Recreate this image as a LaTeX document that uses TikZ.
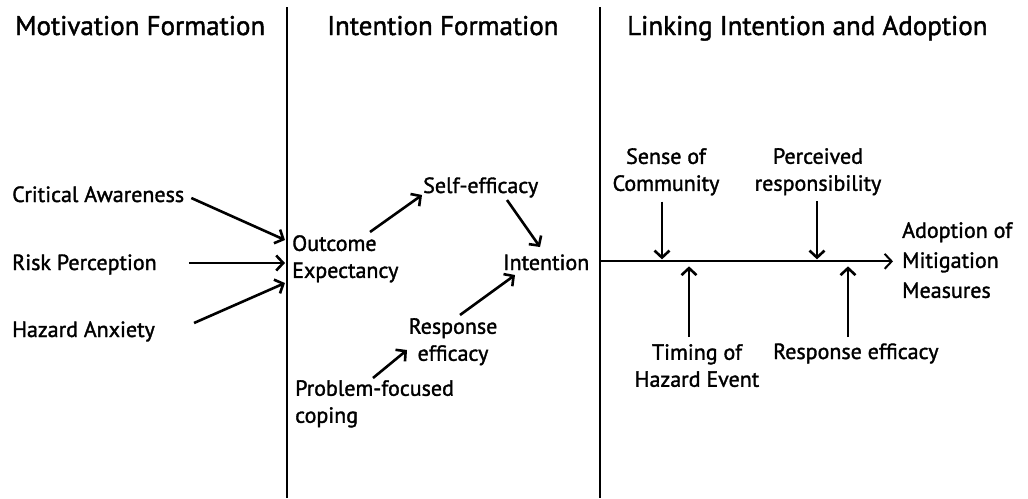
\documentclass[tikz,border=0pt]{standalone}
\usepackage{fontspec}
\setmainfont{PT Sans}[BoldFont=PT Sans, BoldFeatures={FakeBold=1.5}]
\usetikzlibrary{arrows.meta,calc}

\begin{document}
\begin{tikzpicture}[x=1pt,y=-1pt,
  lbl/.style={inner sep=0pt, font=\fontsize{22}{27}\selectfont\bfseries},
  head/.style={inner sep=0pt, anchor=base west, font=\fontsize{27}{33}\selectfont\bfseries},
  divider/.style={line width=2pt},
  link/.style={line width=2.6pt, -{Straight Barb[length=7pt,width=15pt]}},
]
\useasboundingbox (0,0) rectangle (1028,498);

% column dividers
\coordinate (d1t) at (287,7);   \coordinate (d1b) at (287,498);
\coordinate (d2t) at (600,7);   \coordinate (d2b) at (600,498);
\draw[divider] (d1t) -- (d1b);
\draw[divider] (d2t) -- (d2b);

% column headings
\node[head] (h1) at (15,35)  {Motivation Formation};
\node[head] (h2) at (327,35) {Intention Formation};
\node[head] (h3) at (627,35) {Linking Intention and Adoption};

% motivation formation
\node[lbl, anchor=base west] (ca) at (12,202) {Critical Awareness};
\node[lbl, anchor=base west] (rp) at (12,270) {Risk Perception};
\node[lbl, anchor=base west] (ha) at (12,337) {Hazard Anxiety};

% intention formation
\node[lbl, anchor=north west, align=left] (oe) at (292,235) {Outcome\\Expectancy};
\node[lbl, anchor=base west] (se) at (423,193) {Self-efficacy};
\node[lbl, anchor=base west] (int) at (503,270) {Intention};
\node[lbl, anchor=north, align=center] (re) at (453,318) {Response\\efficacy};
\node[lbl, anchor=north west, align=left] (pfc) at (295,380) {Problem-focused\\coping};

% linking intention and adoption
\node[lbl, anchor=north, align=center] (soc) at (666,148) {Sense of\\Community};
\node[lbl, anchor=north, align=center] (pr) at (818,148) {Perceived\\responsibility};
\node[lbl, anchor=north, align=center] (th) at (697,344) {Timing of\\Hazard Event};
\node[lbl, anchor=base west] (re2) at (773,359) {Response efficacy};
\node[lbl, anchor=north west, align=left] (ad) at (902,222) {Adoption of\\[3pt]Mitigation\\[3pt]Measures};

% motivation -> outcome expectancy
\draw[link] ($(ca.base east)+(7,-4)$) -- ($(oe.north west)+(-7,5)$);
\draw[link] ($(rp.base east)+(32,-7)$) -- ($(oe.north west)+(-7,28)$);
\draw[link] ($(ha.base east)+(39,-14)$) -- ($(oe.north west)+(-7,48)$);

% intention formation paths
\draw[link] ($(oe.north west)+(78,-3)$) -- ($(se.base west)+(-1,2)$);
\draw[link] ($(se.base west)+(84,7)$) -- ($(int.base west)+(37,-23)$);
\draw[link] ($(re.north)+(7,-3)$) -- ($(int.base west)+(12,5)$);
\draw[link] ($(pfc.north west)+(78,-2)$) -- ($(re.north)+(-46,32)$);

% intention -> adoption, with moderators
\draw[link, line width=2pt] ($(d2t |- int.east)+(0,-1)$) -- ($(ad.north west |- int.east)+(-9,-1)$);
\draw[link] ($(soc.south)+(-4,6)$) -- ($(soc.south |- int.east)+(-4,-3)$);
\draw[link] ($(pr.south)+(-1,6)$) -- ($(pr.south |- int.east)+(-1,-3)$);
\draw[link] ($(th.north)+(-8,-7)$) -- ($(th.north |- int.east)+(-8,4)$);
\draw[link] ($(re2.base west)+(75,-22)$) -- ($(re2.base west |- int.east)+(75,4)$);
\end{tikzpicture}
\end{document}
